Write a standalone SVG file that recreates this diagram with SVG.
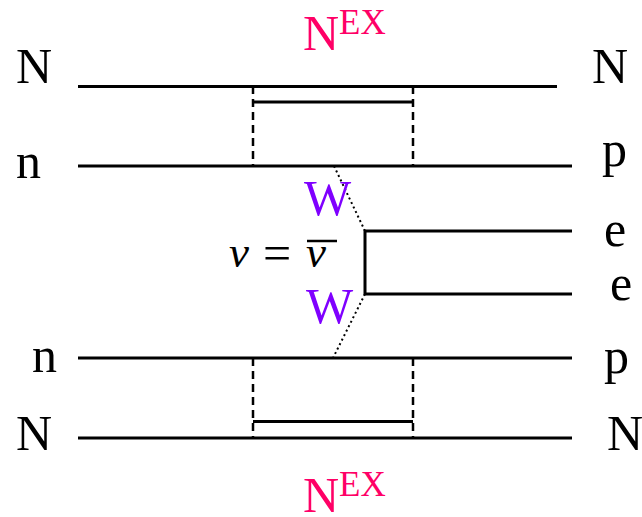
<svg xmlns="http://www.w3.org/2000/svg" width="642" height="517" viewBox="0 0 642 517" font-family="Liberation Serif, serif">
<style>
text{font-family:'Liberation Serif',serif;font-size:50px;fill:#000}
.ex{fill:#FF0066}
.w{fill:#7F00FF}
.nu{font-style:italic;font-size:45px}
.ln{stroke:#000;stroke-width:3;fill:none}
.ds{stroke:#000;stroke-width:2.5;stroke-dasharray:8,5;fill:none}
.dt{stroke:#000;stroke-width:2;stroke-dasharray:2,3;fill:none}
</style>
<rect width="642" height="517" fill="#fff"/>
<g id="connectors">
<line class="ln" x1="78" y1="86.5" x2="557" y2="86.5"/>
<line class="ln" x1="253" y1="102" x2="413" y2="102"/>
<line class="ln" x1="78" y1="166" x2="572" y2="166"/>
<line class="ds" x1="253" y1="86" x2="253" y2="166"/>
<line class="ds" x1="413" y1="86" x2="413" y2="166"/>
<polyline class="ln" points="572,231 365,231 365,294 572,294"/>
<line class="dt" x1="334" y1="166" x2="365" y2="231"/>
<line class="dt" x1="365" y1="294" x2="333" y2="358"/>
<line class="ln" x1="78" y1="358" x2="572" y2="358"/>
<line class="ln" x1="253" y1="421.5" x2="413" y2="421.5"/>
<line class="ln" x1="78" y1="438" x2="572" y2="438"/>
<line class="ds" x1="253" y1="358" x2="253" y2="438"/>
<line class="ds" x1="413" y1="358" x2="413" y2="438"/>
</g>
<g id="label-left">
<text x="16" y="83">N</text>
<text x="16" y="178">n</text>
<text x="32" y="372">n</text>
<text x="16" y="450">N</text>
</g>
<g id="label-right">
<text x="592" y="83">N</text>
<text x="602" y="166">p</text>
<text x="604" y="246">e</text>
<text x="610" y="300">e</text>
<text x="604" y="373">p</text>
<text x="607" y="450">N</text>
</g>
<g id="nex-top">
<text class="ex" x="303" y="50">N<tspan font-size="35" dy="-16">EX</tspan></text>
</g>
<g id="nex-bottom">
<text class="ex" x="303" y="512">N<tspan font-size="35" dy="-16">EX</tspan></text>
</g>
<g id="w-top"><text class="w" x="304" y="215">W</text></g>
<g id="w-bottom"><text class="w" x="306" y="323">W</text></g>
<g id="nu">
<text class="nu" x="229" y="267">ν</text>
<text x="263" y="270">=</text>
<text class="nu" x="306" y="267">ν</text>
<line x1="307" y1="241" x2="337" y2="241" stroke="#000" stroke-width="2.5"/>
</g>
</svg>
